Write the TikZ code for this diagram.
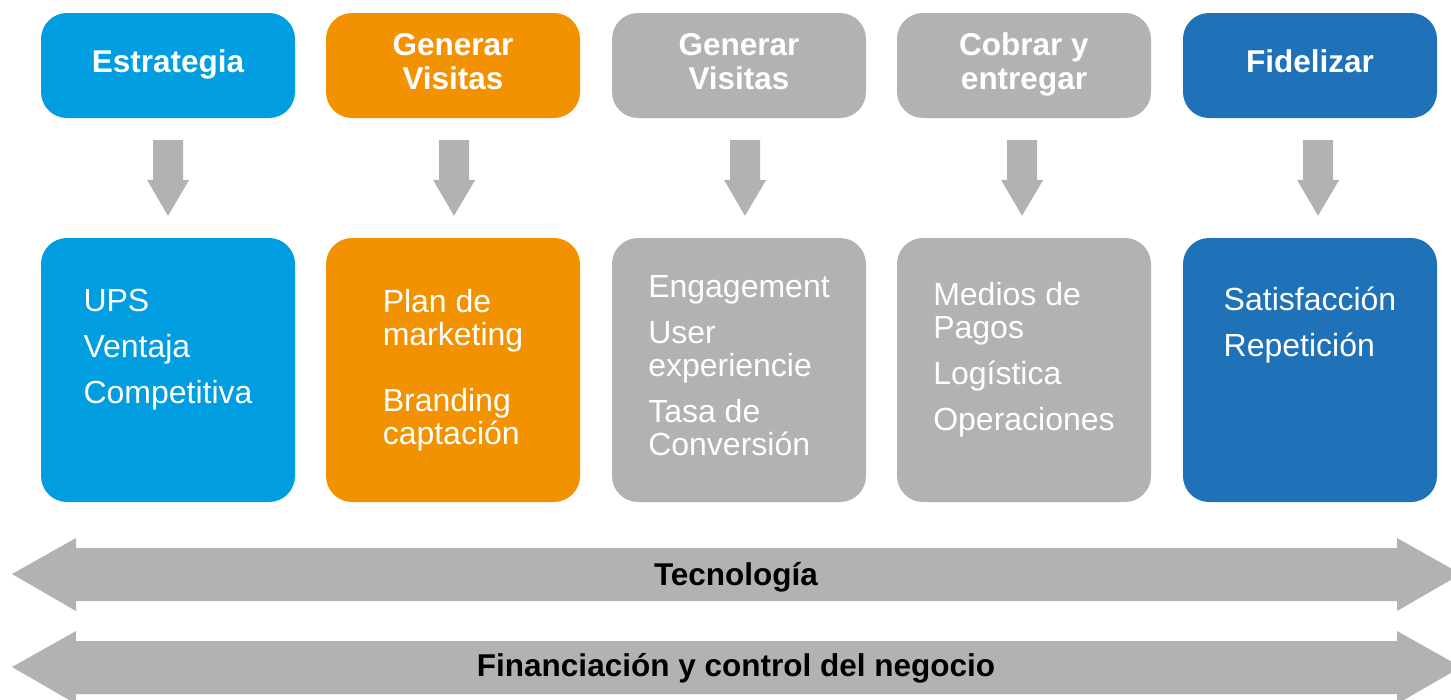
\documentclass[tikz,border=0pt]{standalone}
\usepackage{fontspec}
\setmainfont{Liberation Sans}
\usetikzlibrary{calc}

\definecolor{celeste}{RGB}{0,158,224}
\definecolor{naranja}{RGB}{243,146,0}
\definecolor{gris}{RGB}{178,178,178}
\definecolor{azul}{RGB}{31,113,184}

\tikzset{
  caja/.style={fill=#1,draw=none,rounded corners=26pt,minimum width=254pt,inner sep=0pt},
  cajaalta/.style={caja=#1,minimum height=105pt},
  cajabaja/.style={caja=#1,minimum height=264pt},
  titulo/.style={text=white,font=\fontsize{31.5}{34}\bfseries\selectfont,align=center,inner sep=0pt},
  lista/.style={text=white,font=\fontsize{32}{33}\selectfont,align=left,anchor=north,inner sep=0pt},
  barra/.style={font=\fontsize{31.5}{34}\bfseries\selectfont,inner sep=0pt}
}

\begin{document}
\begin{tikzpicture}[x=1pt,y=-1pt]
  \useasboundingbox (0,0) rectangle (1451,699);
  \clip (0,0) rectangle (1451,699);

  % fila de arriba
  \node[cajaalta=celeste] (t1) at (168,65.5) {};
  \node[cajaalta=naranja] (t2) at (453,65.5) {};
  \node[cajaalta=gris]    (t3) at (739,65.5) {};
  \node[cajaalta=gris]    (t4) at (1024,65.5) {};
  \node[cajaalta=azul]    (t5) at (1310,65.5) {};

  \node[titulo] (n1) at ([yshift=1pt]t1.center) {Estrategia};
  \node[titulo] (n2) at ([yshift=4pt]t2.center) {Generar\\Visitas};
  \node[titulo] (n3) at ([yshift=4pt]t3.center) {Generar\\Visitas};
  \node[titulo] (n4) at ([yshift=1pt]t4.center) {Cobrar y\\entregar};
  \node[titulo] (n5) at ([yshift=4pt]t5.center) {Fidelizar};

  % fila de abajo
  \node[cajabaja=celeste] (b1) at (168,370) {};
  \node[cajabaja=naranja] (b2) at (453,370) {};
  \node[cajabaja=gris]    (b3) at (739,370) {};
  \node[cajabaja=gris]    (b4) at (1024,370) {};
  \node[cajabaja=azul]    (b5) at (1310,370) {};

  \node[lista] (l1) at (168,289) {UPS\\[13pt]Ventaja\\[13pt]Competitiva};
  \node[lista] (l2) at (453,289) {Plan de\\marketing\\[33pt]Branding\\captación};
  \node[lista] (l3) at (739,275) {Engagement\\[13pt]User\\experiencie\\[13pt]Tasa de\\Conversión};
  \node[lista] (l4) at (1024,282) {Medios de\\Pagos\\[13pt]Logística\\[13pt]Operaciones};
  \node[lista] (l5) at (1310,287) {Satisfacción\\[13pt]Repetición};

  % flechas hacia abajo
  \foreach \i/\dx in {1/0,2/1,3/6,4/-2,5/8}
    \fill[gris] ([xshift=\dx pt-15pt,yshift=-22pt]t\i.south) -- ++(30,0) -- ++(0,40)
      -- ++(6,0) -- ([xshift=\dx pt,yshift=22pt]b\i.north) -- ++(-21,-36)
      -- ++(6,0) -- cycle;

  % flechas dobles
  \foreach \y/\dy/\nm in {574/3/tec,667/1.5/fin}
    \fill[gris] (12,\y) -- (76,\y-36) -- (76,\y-26) -- (1397,\y-26) -- (1397,\y-36)
      -- (1461,\y) -- (1397,\y+37) -- (1397,\y+27) -- (76,\y+27) -- (76,\y+37) -- cycle
      coordinate (\nm) at (736,\y+\dy);

  \node[barra] (tecno) at (tec) {Tecnología};
  \node[barra] (finan) at (fin) {Financiación y control del negocio};
\end{tikzpicture}
\end{document}
